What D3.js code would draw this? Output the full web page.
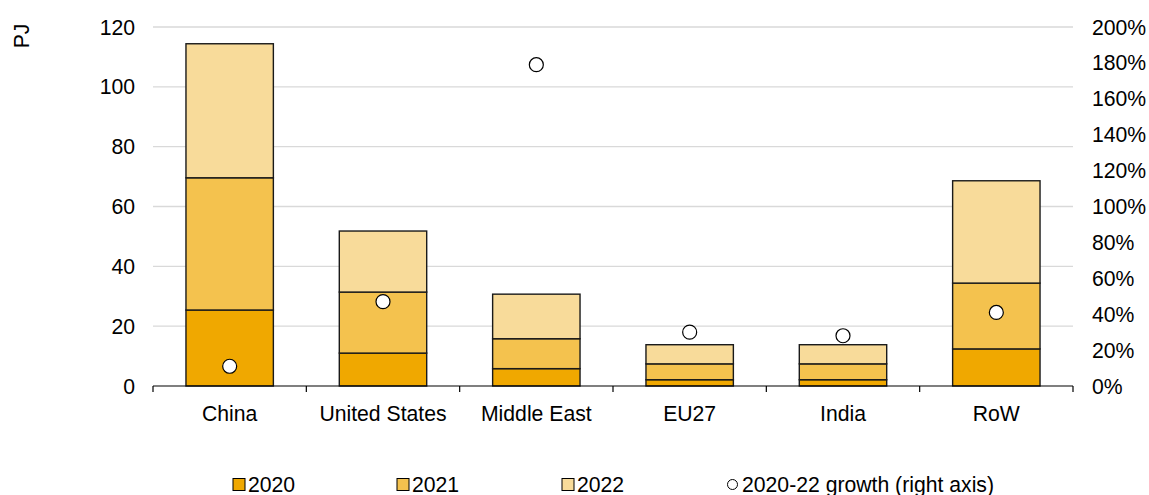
<!DOCTYPE html>
<html><head><meta charset="utf-8">
<script src="https://cdn.jsdelivr.net/npm/d3@7"></script>
<style>body{margin:0;background:#fff}svg{display:block;font-family:"Liberation Sans",Arial,sans-serif}</style>
</head><body><svg id="c" width="1149" height="495"></svg>
<script>
const categories = ["China","United States","Middle East","EU27","India","RoW"];
const v2020 = [25.4, 11.0, 5.8, 2.1, 2.1, 12.4];
const v2021 = [44.2, 20.4, 10.0, 5.3, 5.3, 22.0];
const v2022 = [44.8, 20.4, 14.9, 6.4, 6.4, 34.2];
const growth = [11, 47, 179, 30, 28, 41];
const seriesNames = ["2020","2021","2022"];
const colors = ["#F0A800","#F4C24E","#F8DB9A"];
const leftTicks = [0,20,40,60,80,100,120];
const rightTicks = [0,20,40,60,80,100,120,140,160,180,200];

const FS = 21.2;
const svg = d3.select("#c");
const L=153, R=1073, T=27, B=386;
const x = d3.scaleBand().domain(categories).range([L,R]).paddingInner(0.43).paddingOuter(0.215);
const y = d3.scaleLinear().domain([0,120]).range([B,T]);
const y2 = d3.scaleLinear().domain([0,200]).range([B,T]);

// gridlines
svg.append("g").selectAll("line").data(leftTicks.filter(d=>d>0)).join("line")
  .attr("x1",L).attr("x2",R).attr("y1",d=>y(d)).attr("y2",d=>y(d))
  .attr("stroke","#d9d9d9").attr("stroke-width",1.3);

// stacked bars
const rows = categories.map((c,i)=>({cat:c,"2020":v2020[i],"2021":v2021[i],"2022":v2022[i]}));
const stack = d3.stack().keys(seriesNames)(rows);
svg.append("g").selectAll("g").data(stack).join("g")
  .attr("fill",(d,i)=>colors[i])
  .selectAll("rect").data(d=>d).join("rect")
  .attr("x",d=>x(d.data.cat)).attr("width",x.bandwidth())
  .attr("y",d=>y(d[1])).attr("height",d=>y(d[0])-y(d[1]))
  .attr("stroke","#1a1a1a").attr("stroke-width",1.4);

// x axis
const xa = svg.append("g");
xa.append("line").attr("x1",L).attr("x2",R).attr("y1",B).attr("y2",B).attr("stroke","#000").attr("stroke-width",1.2);
const step = x.step();
const bounds = d3.range(categories.length+1).map(i=>L+i*step);
xa.selectAll(".tk").data(bounds).join("line").attr("class","tk")
  .attr("x1",d=>d).attr("x2",d=>d).attr("y1",B).attr("y2",B+6).attr("stroke","#000").attr("stroke-width",1.2);
xa.selectAll("text").data(categories).join("text")
  .attr("x",d=>x(d)+x.bandwidth()/2).attr("y",421).attr("text-anchor","middle")
  .attr("font-size",FS).attr("fill","#000").text(d=>d);

// left axis labels
svg.append("g").selectAll("text").data(leftTicks).join("text")
  .attr("x",135).attr("y",d=>y(d)+7.5).attr("text-anchor","end")
  .attr("font-size",FS).text(d=>d);
// right axis labels
svg.append("g").selectAll("text").data(rightTicks).join("text")
  .attr("x",1092).attr("y",d=>y2(d)+7.5).attr("text-anchor","start")
  .attr("font-size",FS).text(d=>d+"%");

svg.append("text").attr("transform","translate(29,36) rotate(-90)")
  .attr("text-anchor","middle").attr("font-size",FS).text("PJ");

// growth points
svg.append("g").selectAll("circle").data(growth).join("circle")
  .attr("cx",(d,i)=>x(categories[i])+x.bandwidth()/2).attr("cy",d=>y2(d))
  .attr("r",7).attr("fill","#fff").attr("stroke","#000").attr("stroke-width",1.2);

// legend
const lg = svg.append("g");
const lx = [233,397,562];
seriesNames.forEach((s,i)=>{
  lg.append("rect").attr("x",lx[i]).attr("y",478.5).attr("width",12).attr("height",12)
    .attr("fill",colors[i]).attr("stroke","#000").attr("stroke-width",1);
  lg.append("text").attr("x",lx[i]+15).attr("y",491.5).attr("font-size",FS).text(s);
});
lg.append("circle").attr("cx",732.5).attr("cy",484.5).attr("r",5).attr("fill","#fff").attr("stroke","#000").attr("stroke-width",1);
lg.append("text").attr("x",742).attr("y",491.5).attr("font-size",FS).text("2020-22 growth (right axis)");
</script></body></html>
